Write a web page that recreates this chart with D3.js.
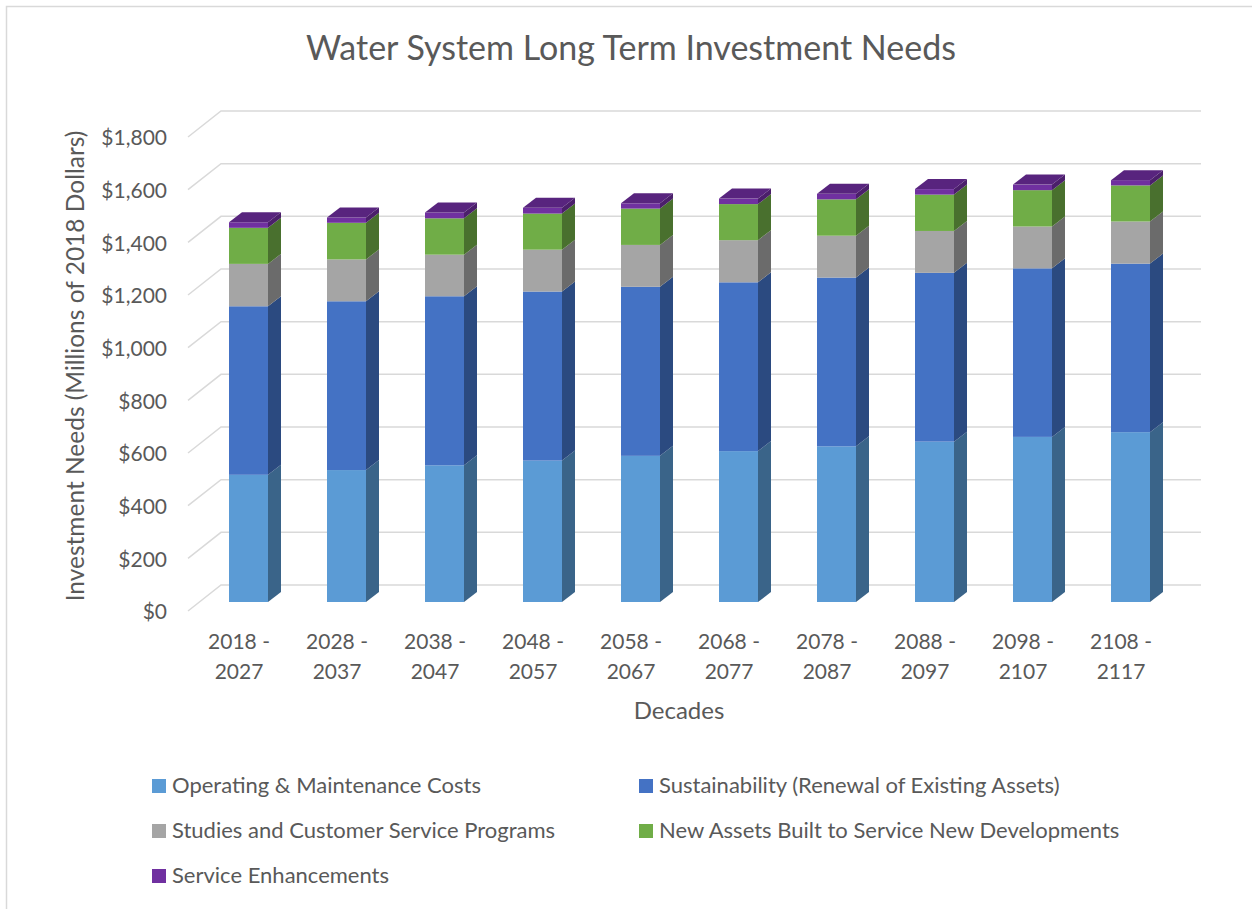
<!DOCTYPE html>
<html>
<head>
<meta charset="utf-8">
<script src="https://cdn.jsdelivr.net/npm/d3@7"></script>
<style>
  body { margin: 0; background: #fff; }
  text { font-family: Lato, "Open Sans", sans-serif; fill: #595959; }
</style>
</head>
<body>
<div id="chart"></div>
<script>
// data
var decades = ["2018 - 2027", "2028 - 2037", "2038 - 2047", "2048 - 2057", "2058 - 2067",
               "2068 - 2077", "2078 - 2087", "2088 - 2097", "2098 - 2107", "2108 - 2117"]
var operating   = [483, 501, 519, 537, 555, 573, 591, 609, 627, 645]
var renewal     = [640, 641, 642, 642, 642, 641, 641, 641, 640, 640]
var studies     = [161, 159, 158, 159, 159, 160, 159, 159, 159, 160]
var newAssets   = [137, 139, 138, 137, 138, 137, 138, 138, 138, 137]
var enhancement = [21, 20, 22, 22, 20, 21, 21, 21, 21, 20]
var seriesNames = ["Operating & Maintenance Costs", "Sustainability (Renewal of Existing Assets)",
                   "Studies and Customer Service Programs", "New Assets Built to Service New Developments",
                   "Service Enhancements"]
var yTicks = [0, 200, 400, 600, 800, 1000, 1200, 1400, 1600, 1800]

var keys = ["om", "sus", "stu", "new", "enh"]
var front = { om: "#5b9bd5", sus: "#4472c4", stu: "#a5a5a5", new: "#70ad47", enh: "#7030a0" }
var side  = { om: "#3a6489", sus: "#2b4a80", stu: "#6b6b6b", new: "#49702e", enh: "#4b1f6b" }
var topC  = "#58247e"

var rows = decades.map(function(d, i) {
    return { decade: d, om: operating[i], sus: renewal[i], stu: studies[i], new: newAssets[i], enh: enhancement[i] }
})

var W = 1252, H = 909
var svg = d3.select("#chart").append("svg").attr("width", W).attr("height", H)

// chart border (only top/left visible in the crop)
svg.append("rect").attr("x", 6.5).attr("y", 6.5).attr("width", W + 20).attr("height", H + 20)
    .attr("fill", "none").attr("stroke", "#d9d9d9").attr("stroke-width", 1.5)

// front plane scales + depth vector
var x = d3.scaleBand().domain(decades).range([188, 1168]).padding(0)
var y = d3.scaleLinear().domain([0, 1800]).range([611, 137])
var depth = [33, -26]
var barOff = [11.5, -9]      // bar front face sits this far back
var barDepth = [13, -10]
var barW = 39

// walls / gridlines
var grid = svg.append("g")
yTicks.forEach(function(t) {
    var y0 = y(t)
    grid.append("path")
        .attr("d", "M" + x.range()[0] + "," + y0 + "L" + (x.range()[0] + depth[0]) + "," + (y0 + depth[1]) +
                   "L" + (x.range()[1] + depth[0]) + "," + (y0 + depth[1]))
        .attr("fill", "none").attr("stroke", "#d9d9d9").attr("stroke-width", 1.5)
})

// tick labels
var fmt = d3.format("$,")
svg.append("g").selectAll("text").data(yTicks).join("text")
    .attr("x", 167).attr("y", function(d) { return y(d) + 3 })
    .attr("text-anchor", "end").attr("dominant-baseline", "middle")
    .style("font-size", "21px")
    .text(fmt)

// stacked 3d bars
var stack = d3.stack().keys(keys)(rows)
var bars = svg.append("g")
stack.forEach(function(layer, li) {
    layer.forEach(function(seg, i) {
        var key = layer.key
        var bx = x(rows[i].decade) + x.bandwidth() / 2 - barW / 2 + barOff[0]
        var yt = y(seg[1]) + barOff[1]
        var yb = y(seg[0]) + barOff[1]
        bars.append("rect").attr("x", bx).attr("y", yt).attr("width", barW).attr("height", yb - yt)
            .attr("fill", front[key])
        var rx = bx + barW
        bars.append("path")
            .attr("d", "M" + rx + "," + yb + "L" + (rx + barDepth[0]) + "," + (yb + barDepth[1]) +
                       "L" + (rx + barDepth[0]) + "," + (yt + barDepth[1]) + "L" + rx + "," + yt + "Z")
            .attr("fill", side[key])
        if (li == stack.length - 1) {
            bars.append("path")
                .attr("d", "M" + bx + "," + yt + "L" + rx + "," + yt + "L" + (rx + barDepth[0]) + "," + (yt + barDepth[1]) +
                           "L" + (bx + barDepth[0]) + "," + (yt + barDepth[1]) + "Z")
                .attr("fill", topC)
        }
    })
})

// category labels, two lines each
var xl = svg.append("g").selectAll("text").data(decades).join("text")
    .attr("text-anchor", "middle")
    .style("font-size", "21px")
xl.append("tspan").attr("x", function(d) { return x(d) + x.bandwidth() / 2 + 2 }).attr("y", 649)
    .text(function(d) { return d.split(" - ")[0] + " -" })
xl.append("tspan").attr("x", function(d) { return x(d) + x.bandwidth() / 2 + 2 }).attr("y", 679)
    .text(function(d) { return d.split(" - ")[1] })

svg.append("text").attr("x", 679).attr("y", 719).attr("text-anchor", "middle")
    .style("font-size", "24px").text("Decades")

svg.append("text").attr("transform", "translate(84,366) rotate(-90)").attr("text-anchor", "middle")
    .style("font-size", "24.5px").text("Investment Needs (Millions of 2018 Dollars)")

svg.append("text").attr("x", 631).attr("y", 60).attr("text-anchor", "middle")
    .style("font-size", "34px").text("Water System Long Term Investment Needs")

// legend
var legPos = [[152, 786], [639, 786], [152, 831], [639, 831], [152, 876]]
var leg = svg.append("g").selectAll("g").data(keys).join("g")
    .attr("transform", function(d, i) { return "translate(" + legPos[i][0] + "," + legPos[i][1] + ")" })
leg.append("rect").attr("x", 0).attr("y", -7).attr("width", 14).attr("height", 14)
    .attr("fill", function(d) { return front[d] })
leg.append("text").attr("x", 20).attr("y", 1).attr("dominant-baseline", "middle")
    .style("font-size", "22px")
    .text(function(d, i) { return seriesNames[i] })
</script>
</body>
</html>
